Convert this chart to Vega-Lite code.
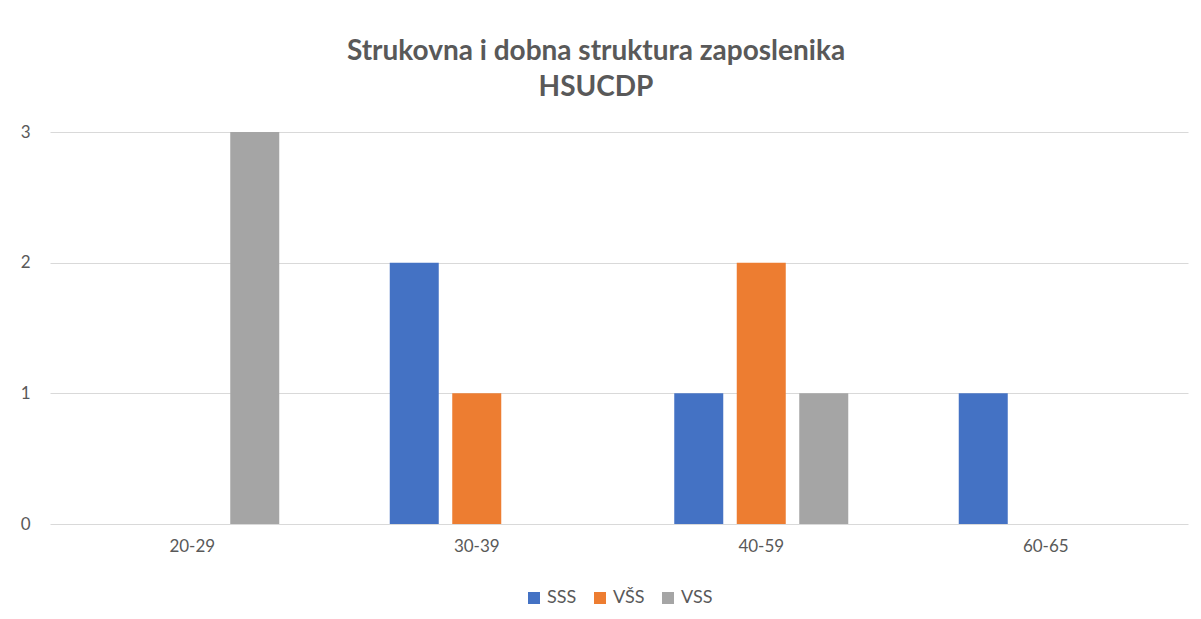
{
  "$schema": "https://vega.github.io/schema/vega-lite/v6.json",
  "width": 1138,
  "height": 392,
  "autosize": {"type": "none"},
  "padding": {"left": 50, "top": 132, "right": 13, "bottom": 95},
  "background": "white",
  "title": {
    "text": ["Strukovna i dobna struktura zaposlenika", "HSUCDP"],
    "fontSize": 28,
    "font": "Lato",
    "fontWeight": "bold",
    "color": "#595959",
    "anchor": "middle",
    "frame": "group",
    "offset": 21,
    "dx": -23,
    "lineHeight": 36
  },
  "data": {
    "values": [
      {"age": "20-29", "edu": "VSS", "count": 3},
      {"age": "30-39", "edu": "SSS", "count": 2},
      {"age": "30-39", "edu": "VŠS", "count": 1},
      {"age": "40-59", "edu": "SSS", "count": 1},
      {"age": "40-59", "edu": "VŠS", "count": 2},
      {"age": "40-59", "edu": "VSS", "count": 1},
      {"age": "60-65", "edu": "SSS", "count": 1}
    ]
  },
  "mark": {"type": "bar"},
  "encoding": {
    "x": {
      "field": "age",
      "type": "nominal",
      "sort": ["20-29", "30-39", "40-59", "60-65"],
      "scale": {"paddingInner": 0, "paddingOuter": 0},
      "axis": {"title": null, "labelAngle": 0, "ticks": false, "domain": false, "labelFontSize": 17, "labelColor": "#595959", "labelFont": "Lato", "labelPadding": 14}
    },
    "xOffset": {
      "field": "edu",
      "type": "nominal",
      "scale": {"domain": ["SSS", "VŠS", "VSS"], "paddingInner": 0.216, "paddingOuter": 0.884}
    },
    "y": {
      "field": "count",
      "type": "quantitative",
      "scale": {"domain": [0, 3]},
      "axis": {"title": null, "values": [0, 1, 2, 3], "ticks": false, "domain": false, "gridColor": "#D9D9D9", "gridWidth": 1, "labelFontSize": 17, "labelColor": "#595959", "labelFont": "Lato", "labelPadding": 20, "format": "d"}
    },
    "color": {
      "field": "edu",
      "type": "nominal",
      "scale": {"domain": ["SSS", "VŠS", "VSS"], "range": ["#4472C4", "#ED7D31", "#A5A5A5"]},
      "legend": {"title": null, "orient": "bottom", "direction": "horizontal", "symbolType": "square", "symbolSize": 144, "symbolStrokeWidth": 0, "labelFontSize": 18, "labelColor": "#595959", "labelFont": "Lato", "columnPadding": 14, "labelOffset": 4, "offset": 35}
    }
  },
  "config": {"view": {"stroke": null}, "legend": {"layout": {"anchor": "middle"}}}
}
